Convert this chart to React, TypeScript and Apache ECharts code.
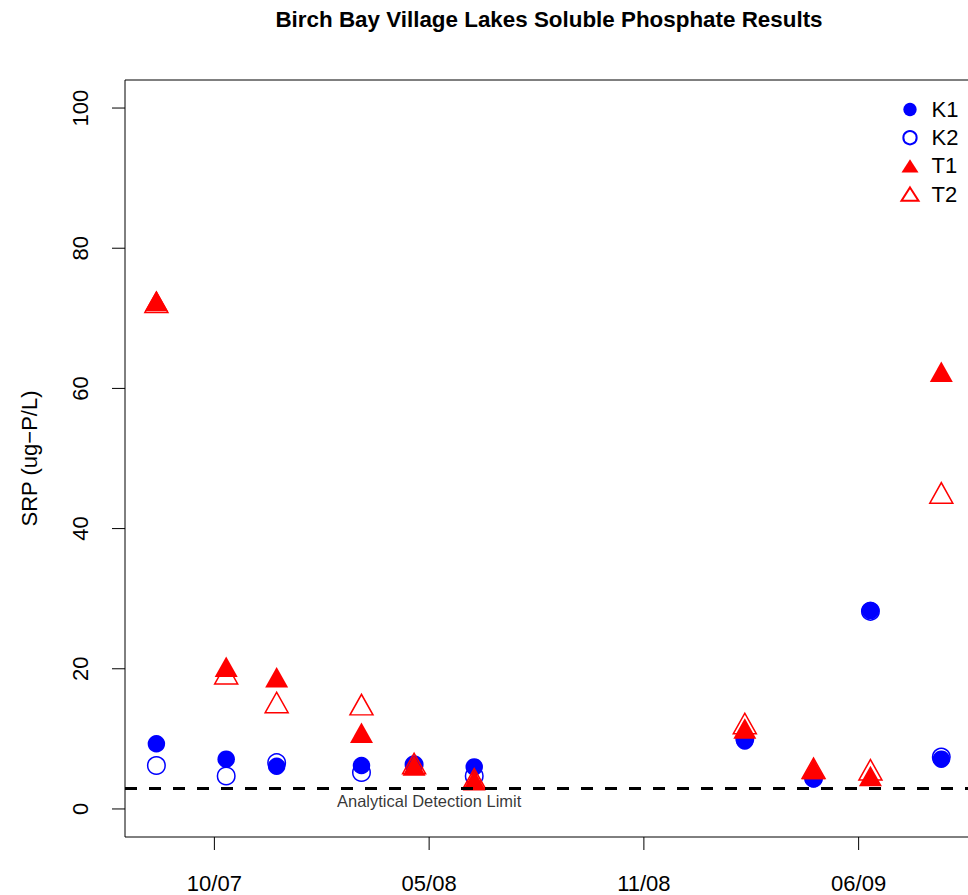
import React, { useEffect, useRef } from "react";
import * as echarts from "echarts";

// Sampling dates as day offsets from the first labelled tick (10/07)
const sampleDays = [-54, 11, 58, 137, 186, 242, 494, 558, 611, 677];
const k1Values = [9.3, 7.1, 6.1, 6.2, 6.3, 6.0, 9.7, 4.3, 28.3, 7.1];
const k2Values = [6.2, 4.7, 6.6, 5.2, 6.3, 4.7, 10.0, 4.4, 28.2, 7.4];
const t1Values = [72.0, 19.8, 18.3, 10.4, 5.7, 3.6, 11.0, 5.2, 4.2, 61.9];
const t2Values = [71.8, 18.8, 14.7, 14.4, 6.0, 3.8, 11.7, 5.3, 5.1, 44.6];

const xTickDays = [0, 200, 400, 600];
const xTickLabels = ["10/07", "05/08", "11/08", "06/09"];
const yTicks = [0, 20, 40, 60, 80, 100];
const yLimits = [0, 100];

const detectionLimit = 3;
const detectionLabel = "Analytical Detection Limit";
const detectionLabelAt = [200, 1.15];

const FONT = "'Liberation Sans', Arial, Helvetica, sans-serif";
const BLUE = "#0000ff";
const RED = "#ff0000";
const TICK_LEN = 13;

export default function App() {
  const ref = useRef<HTMLDivElement>(null);

  useEffect(() => {
    if (!ref.current) return;
    const chart = echarts.init(ref.current, undefined, { renderer: "svg" });

    const span = Math.max(...sampleDays) - Math.min(...sampleDays);
    const xMin = Math.min(...sampleDays) - 0.04 * span;
    const xMax = Math.max(...sampleDays) + 0.04 * span;
    const ySpan = yLimits[1] - yLimits[0];
    const yMin = yLimits[0] - 0.04 * ySpan;
    const yMax = yLimits[1] + 0.04 * ySpan;

    const pts = (vals: number[]) => sampleDays.map((d, i) => [d, vals[i]]);
    const circle = 17.5;
    const tri: [number, number] = [23, 20.5];
    const triOffset = [0, -tri[1] / 6];

    chart.setOption({
      animation: false,
      backgroundColor: "#ffffff",
      title: {
        text: "Birch Bay Village Lakes Soluble Phosphate Results",
        left: "center",
        top: 8.4,
        padding: 0,
        textStyle: { fontFamily: FONT, fontSize: 22.4, fontWeight: "bold", color: "#000" },
      },
      legend: {
        data: ["K1", "K2", "T1", "T2"],
        orient: "vertical",
        left: 900.5,
        top: 98.5,
        padding: 0,
        itemGap: 6.2,
        itemWidth: 17,
        itemHeight: 13.3,
        selectedMode: false,
        textStyle: { fontFamily: FONT, fontSize: 22, color: "#000", padding: [0, 0, 0, 8] },
      },
      grid: {
        left: 125,
        right: 125.3,
        top: 80,
        bottom: 58,
        show: true,
        borderColor: "#000",
        borderWidth: 1,
        backgroundColor: "transparent",
      },
      xAxis: {
        type: "value",
        min: xMin,
        max: xMax,
        axisLine: { show: false, onZero: false },
        splitLine: { show: false },
        axisTick: { show: false },
        axisLabel: {
          customValues: xTickDays,
          margin: 35,
          fontFamily: FONT,
          fontSize: 22,
          color: "#000",
          formatter: (v: number) => {
            const i = xTickDays.indexOf(v);
            return i >= 0 ? xTickLabels[i] : "";
          },
        },
      },
      yAxis: {
        type: "value",
        min: yMin,
        max: yMax,
        name: "SRP (ug\u2212P/L)",
        nameLocation: "middle",
        nameGap: 84.6,
        nameTextStyle: { fontFamily: FONT, fontSize: 22, color: "#000" },
        axisLine: { show: false, onZero: false },
        splitLine: { show: false },
        axisTick: { show: false },
        axisLabel: {
          customValues: yTicks,
          rotate: 90,
          margin: 33.5,
          fontFamily: FONT,
          fontSize: 22,
          color: "#000",
        },
      },
      series: [
        {
          name: "xTicks",
          type: "custom",
          silent: true,
          clip: false,
          data: xTickDays.map((d) => [d, yMin]),
          renderItem: (_params: any, api: any) => {
            const p = api.coord([api.value(0), api.value(1)]);
            return {
              type: "line",
              shape: { x1: p[0], y1: p[1], x2: p[0], y2: p[1] + TICK_LEN },
              style: { stroke: "#000", lineWidth: 1 },
            };
          },
          z: 1,
        },
        {
          name: "yTicks",
          type: "custom",
          silent: true,
          clip: false,
          data: yTicks.map((v) => [xMin, v]),
          renderItem: (_params: any, api: any) => {
            const p = api.coord([api.value(0), api.value(1)]);
            return {
              type: "line",
              shape: { x1: p[0] - TICK_LEN, y1: p[1], x2: p[0], y2: p[1] },
              style: { stroke: "#000", lineWidth: 1 },
            };
          },
          z: 1,
        },
        {
          name: "K1",
          type: "scatter",
          data: pts(k1Values),
          symbol: "circle",
          symbolSize: circle,
          itemStyle: { color: BLUE, opacity: 1 },
          z: 2,
        },
        {
          name: "K2",
          type: "scatter",
          data: pts(k2Values),
          symbol: "circle",
          symbolSize: circle,
          itemStyle: { color: "transparent", borderColor: BLUE, borderWidth: 1.5, opacity: 1 },
          z: 2,
        },
        {
          name: "T1",
          type: "scatter",
          data: pts(t1Values),
          symbol: "triangle",
          symbolSize: tri,
          symbolOffset: triOffset,
          itemStyle: { color: RED, opacity: 1 },
          z: 2,
        },
        {
          name: "T2",
          type: "scatter",
          data: pts(t2Values),
          symbol: "triangle",
          symbolSize: tri,
          symbolOffset: triOffset,
          itemStyle: { color: "transparent", borderColor: RED, borderWidth: 1.5, opacity: 1 },
          z: 2,
        },
        {
          name: detectionLabel,
          type: "scatter",
          data: [detectionLabelAt],
          symbolSize: 0,
          silent: true,
          z: 3,
          label: {
            show: true,
            position: "inside",
            formatter: detectionLabel,
            fontFamily: FONT,
            fontSize: 16.5,
            color: "#000",
          },
          markLine: {
            silent: true,
            symbol: ["none", "none"],
            label: { show: false },
            lineStyle: { color: "#000", type: [12, 12], width: 3 },
            data: [{ yAxis: detectionLimit }],
          },
        },
      ],
    });

    return () => chart.dispose();
  }, []);

  return (
    <div
      style={{
        position: "absolute",
        left: 0,
        top: 0,
        width: 968,
        height: 895,
        overflow: "hidden",
        background: "#fff",
      }}
    >
      <div ref={ref} style={{ width: 1098, height: 895 }} />
    </div>
  );
}
